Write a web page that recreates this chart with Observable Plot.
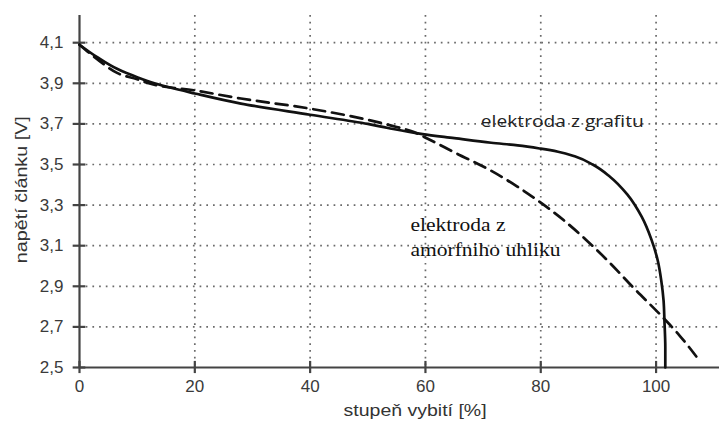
<!DOCTYPE html>
<html>
<head>
<meta charset="utf-8">
<script src="https://cdn.jsdelivr.net/npm/d3@7"></script>
<script src="https://cdn.jsdelivr.net/npm/@observablehq/plot@0.6"></script>
<style>
  html, body { margin: 0; padding: 0; background: #fff; }
</style>
</head>
<body>
<div id="chart"></div>
<script>
// Data
const xTicks = [0, 20, 40, 60, 80, 100];
const yTicks = [2.5, 2.7, 2.9, 3.1, 3.3, 3.5, 3.7, 3.9, 4.1];

const graphiteX = [0, 3, 6.6, 10, 13, 20, 28, 40, 50, 53.5, 59.5, 65, 71.4, 76, 80, 83, 86, 89, 92, 95, 97.5, 99.2, 100.3, 100.9, 101.3, 101.45, 101.6, 101.6];
const graphiteV = [4.09, 4.03, 3.97, 3.93, 3.90, 3.85, 3.80, 3.745, 3.70, 3.68, 3.65, 3.63, 3.607, 3.594, 3.578, 3.563, 3.539, 3.50, 3.44, 3.353, 3.243, 3.13, 3.026, 2.928, 2.829, 2.73, 2.6, 2.5];

const carbonX = [0, 3, 6.6, 10, 12, 20, 28, 40, 50, 55, 58, 60.4, 65, 71.4, 76, 80, 84, 88.2, 92, 96, 100.9, 104, 107.5];
const carbonV = [4.09, 4.02, 3.95, 3.92, 3.90, 3.865, 3.825, 3.775, 3.72, 3.685, 3.66, 3.627, 3.56, 3.469, 3.39, 3.312, 3.225, 3.12, 3.015, 2.895, 2.755, 2.66, 2.535];

const xLabel = "stupeň vybití [%]";
const yLabel = "napětí článku [V]";
const labelGraphite = "elektroda z grafitu";
const labelCarbon = ["elektroda z", "amorfniho uhliku"];

const graphite = graphiteX.map((x, i) => ({x, v: graphiteV[i]}));
const carbon = carbonX.map((x, i) => ({x, v: carbonV[i]}));
const fmt = d => d.toFixed(1).replace(".", ",");

const gridStyle = {stroke: "#6a6a6a", strokeOpacity: 1, strokeWidth: 1.7, strokeDasharray: "1.7,5"};
const serif = "'Liberation Serif', 'Times New Roman', serif";

const chart = Plot.plot({
  width: 719,
  height: 426,
  marginLeft: 79,
  marginRight: 0,
  marginTop: 15,
  marginBottom: 59,
  style: {fontFamily: "'Liberation Sans', Arial, sans-serif", fontSize: "17px", color: "#333", background: "#fff"},
  x: {domain: [0, 111]},
  y: {domain: [2.5, 4.234]},
  marks: [
    Plot.gridX(xTicks.filter(d => d > 0), gridStyle),
    Plot.gridY(yTicks.filter(d => d > 2.5), gridStyle),
    Plot.axisX(xTicks, {tickSize: 0, tickPadding: 12, tickFormat: d => String(d), fontSize: 17, fill: "#3a3a3a", label: null}),
    Plot.axisY(yTicks, {tickSize: 0, tickPadding: 16, tickFormat: fmt, fontSize: 17, fill: "#3a3a3a", label: null}),
    Plot.ruleX([0], {stroke: "#444", strokeWidth: 2.2}),
    Plot.ruleY([2.5], {stroke: "#444", strokeWidth: 2.2}),
    Plot.ruleY(yTicks, {x1: -1.1, x2: 1.1, stroke: "#444", strokeWidth: 2.2}),
    Plot.ruleX(xTicks, {y1: 2.5 - 0.03, y2: 2.5 + 0.03, stroke: "#444", strokeWidth: 2.2}),
    Plot.line(carbon, {x: "x", y: "v", stroke: "#111", strokeWidth: 2.7, strokeDasharray: "12,7", curve: "monotone-x"}),
    Plot.line(graphite, {x: "x", y: "v", stroke: "#111", strokeWidth: 2.7, curve: "monotone-y"}),
    Plot.text([labelGraphite], {x: 69.6, y: 3.71, text: d => d, textAnchor: "start", fontFamily: "'Open Sans', Lato, sans-serif", fontSize: 17, fill: "#222"}),
    Plot.text([labelCarbon[0]], {x: 57.4, y: 3.20, text: d => d, textAnchor: "start", fontFamily: serif, fontSize: 19, fill: "#111"}),
    Plot.text([labelCarbon[1]], {x: 57.4, y: 3.08, text: d => d, textAnchor: "start", fontFamily: serif, fontSize: 19, fill: "#111"}),
    Plot.text([xLabel], {x: 58.2, y: 2.287, text: d => d, fontSize: 17, fill: "#333"}),
    Plot.text([yLabel], {x: -10.1, y: 3.376, text: d => d, rotate: -90, fontSize: 17, fill: "#333"})
  ]
});
document.getElementById("chart").appendChild(chart);

// Fit the labels to the widths they have in the reference
const widths = new Map([
  [labelGraphite, 163],
  [labelCarbon[0], 95],
  [labelCarbon[1], 150],
  [xLabel, 143],
  [yLabel, 147]
]);
d3.select(chart).selectAll("text").each(function () {
  const w = widths.get(this.textContent);
  if (w) d3.select(this).attr("textLength", w).attr("lengthAdjust", "spacingAndGlyphs");
});
</script>
</body>
</html>
